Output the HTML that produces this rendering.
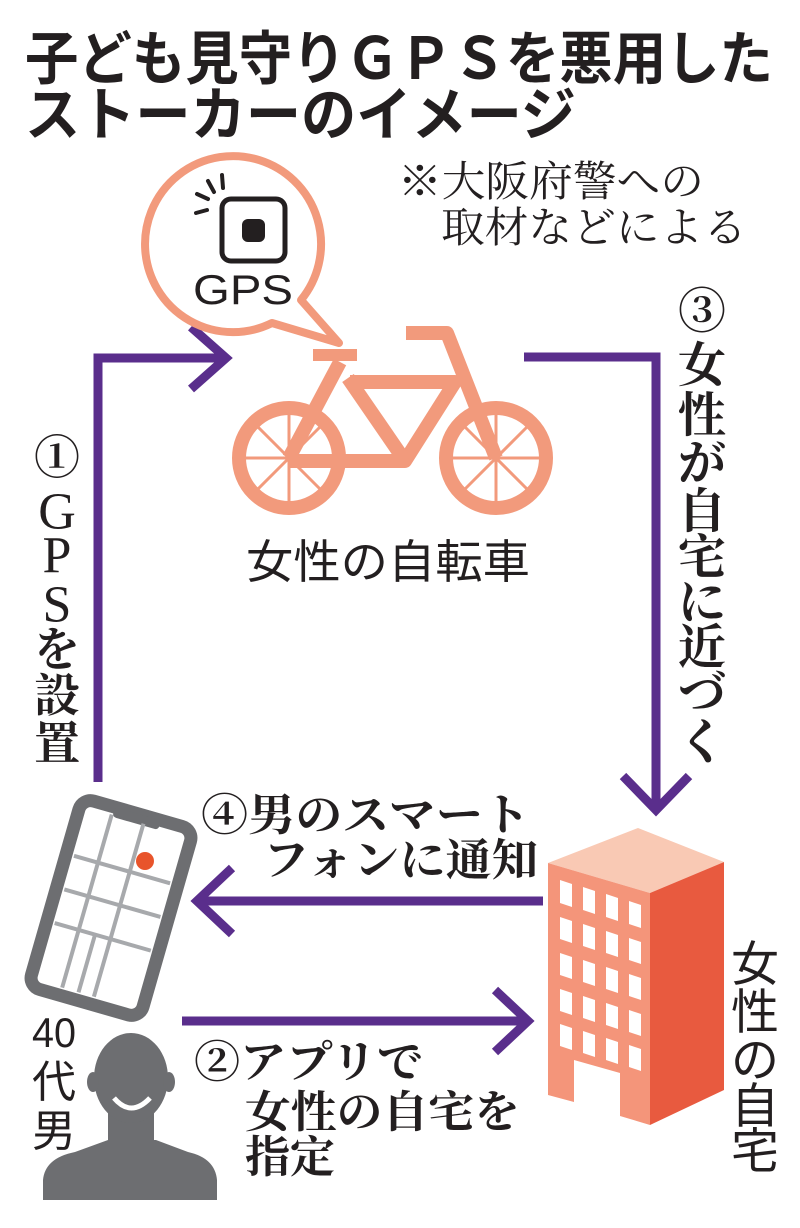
<!DOCTYPE html>
<html><head><meta charset="utf-8"><style>
html,body{margin:0;padding:0;background:#fff}
svg{display:block}
.t{font-family:"Liberation Sans","Noto Sans CJK JP",sans-serif;font-weight:bold;fill:#231f20}
.s{font-family:"Liberation Serif","Noto Serif CJK SC",serif;font-weight:bold;fill:#231f20}
.r{font-family:"Liberation Serif","Noto Serif CJK SC",serif;font-weight:normal;fill:#231f20}
.n{font-family:"Liberation Serif","Noto Serif CJK SC",serif;font-weight:normal;fill:#231f20}
.g{font-family:"Liberation Sans","Noto Sans CJK JP",sans-serif;font-weight:normal;fill:#231f20}
</style></head><body>
<svg width="800" height="1228" viewBox="0 0 800 1228" xmlns="http://www.w3.org/2000/svg">
<rect width="800" height="1228" fill="#fff"/>
<text class="t" x="25" y="79" font-size="58" textLength="748" lengthAdjust="spacingAndGlyphs">子ども見守りＧＰＳを悪用した</text>
<text class="t" x="25" y="135" font-size="58" textLength="551" lengthAdjust="spacingAndGlyphs">ストーカーのイメージ</text>
<text class="n" x="398" y="196" font-size="42" textLength="306" lengthAdjust="spacingAndGlyphs">※大阪府警への</text>
<text class="n" x="441" y="242" font-size="42" textLength="306" lengthAdjust="spacingAndGlyphs">取材などによる</text>

<g stroke="#5a2e8c" stroke-width="9" fill="none" stroke-linecap="butt">
<polyline points="98,782 98,358 226,358"/>
<polyline points="191,327 226,358 191,389"/>
<polyline points="524,357 656,357 656,810"/>
<polyline points="623,776 656,810 689,776"/>
<line x1="543" y1="901" x2="198" y2="901"/>
<polyline points="232,868 197,901 232,934"/>
<line x1="182" y1="1021" x2="526" y2="1021"/>
<polyline points="495,990 528,1021 495,1052"/>
</g>

<path d="M301,300 A88,88 0 1 0 272,323 L339,343 Z" fill="#fff" stroke="#f29a7c" stroke-width="8" stroke-linejoin="round"/>
<rect x="222" y="199" width="63" height="62" rx="9" fill="none" stroke="#231f20" stroke-width="5"/>
<rect x="242" y="219" width="23" height="23" rx="6" fill="#231f20"/>
<g stroke="#231f20" stroke-width="4" stroke-linecap="round">
<line x1="222" y1="175" x2="223" y2="188"/>
<line x1="208" y1="181" x2="214" y2="192"/>
<line x1="197" y1="194" x2="208" y2="199"/>
<line x1="196" y1="213" x2="207" y2="210"/>
</g>
<text x="243" y="304" font-size="42" text-anchor="middle" textLength="100" lengthAdjust="spacingAndGlyphs" style="font-family:'Liberation Sans',sans-serif;fill:#231f20">GPS</text>

<g stroke="#f29a7c" fill="none">
<circle cx="289" cy="458" r="50" stroke-width="14"/>
<circle cx="496" cy="458" r="50" stroke-width="14"/>
<g stroke-width="3">
<line x1="289" y1="408" x2="289" y2="508"/><line x1="239" y1="458" x2="339" y2="458"/>
<line x1="254" y1="423" x2="324" y2="493"/><line x1="254" y1="493" x2="324" y2="423"/>
<line x1="496" y1="408" x2="496" y2="508"/><line x1="446" y1="458" x2="546" y2="458"/>
<line x1="461" y1="423" x2="531" y2="493"/><line x1="461" y1="493" x2="531" y2="423"/>
</g>
<g stroke-width="14" stroke-linejoin="round" stroke-linecap="butt">
<polyline points="289,458 340,362"/>
<polyline points="289,461 405,461 455,382 350,382"/>
<line x1="348" y1="378" x2="405" y2="461"/>
<polyline points="406,333 447,333 496,458"/>
</g>
<line x1="313" y1="355" x2="357" y2="355" stroke-width="12"/>
</g>
<text class="g" x="246" y="578" font-size="46" textLength="284" lengthAdjust="spacingAndGlyphs">女性の自転車</text>

<g font-size="46" text-anchor="middle" dominant-baseline="central">
<text class="s" x="57" y="458">①</text>
<text class="r" x="57" y="512" font-size="52">G</text>
<text class="r" x="57" y="556" font-size="52">P</text>
<text class="r" x="57" y="605" font-size="52">S</text>
<text class="s" x="57" y="650">を</text>
<text class="s" x="57" y="696">設</text>
<text class="s" x="57" y="744">置</text>
</g>
<g font-size="48" text-anchor="middle" dominant-baseline="central">
<text class="s" x="702" y="312">③</text>
<text class="s" x="702" y="366">女</text>
<text class="s" x="702" y="416">性</text>
<text class="s" x="702" y="464">が</text>
<text class="s" x="702" y="512">自</text>
<text class="s" x="702" y="558">宅</text>
<text class="s" x="702" y="603">に</text>
<text class="s" x="702" y="648">近</text>
<text class="s" x="702" y="694">づ</text>
<text class="s" x="702" y="743">く</text>
</g>

<text class="s" x="201" y="830" font-size="44" textLength="329" lengthAdjust="spacingAndGlyphs">④男のスマート</text>
<text class="s" x="263" y="875" font-size="44" textLength="275" lengthAdjust="spacingAndGlyphs">フォンに通知</text>
<text class="s" x="194" y="1077" font-size="44" textLength="229" lengthAdjust="spacingAndGlyphs">②アプリで</text>
<text class="s" x="245" y="1127" font-size="44" textLength="275" lengthAdjust="spacingAndGlyphs">女性の自宅を</text>
<text class="s" x="245" y="1172" font-size="44" textLength="90" lengthAdjust="spacingAndGlyphs">指定</text>

<g transform="translate(111,908) rotate(16)">
<rect x="-58" y="-98" width="116" height="196" rx="12" fill="#fff" stroke="#6d6e71" stroke-width="13"/>
<rect x="-24" y="-98" width="48" height="10" rx="4" fill="#6d6e71"/>
<g stroke="#a7a9ac" stroke-width="4">
<line x1="-25" y1="-90" x2="-25" y2="90"/>
<line x1="8" y1="-90" x2="8" y2="90"/>
<line x1="-50" y1="-40" x2="50" y2="-40"/>
<line x1="-50" y1="30" x2="50" y2="30"/>
<line x1="-50" y1="-5" x2="50" y2="-5"/>
<line x1="-8" y1="30" x2="-8" y2="90"/>
</g>
</g>
<circle cx="145" cy="861" r="9" fill="#e8542b"/>

<text class="g" x="54" y="1047" font-size="42" text-anchor="middle" textLength="44" lengthAdjust="spacingAndGlyphs">40</text>
<text class="g" x="54" y="1097" font-size="44" text-anchor="middle">代</text>
<text class="g" x="54" y="1146" font-size="44" text-anchor="middle">男</text>

<g fill="#6d6e71">
<path d="M43,1200 L43,1180 Q45,1158 75,1152 L108,1140 L156,1140 L188,1152 Q215,1158 217,1180 L217,1200 Z"/>
<rect x="108" y="1100" width="46" height="50"/>
<ellipse cx="131" cy="1078" rx="37" ry="45"/>
<ellipse cx="93" cy="1082" rx="6" ry="10"/>
<ellipse cx="169" cy="1082" rx="6" ry="10"/>
</g>
<path d="M114,1098 Q131,1118 150,1098" fill="none" stroke="#fff" stroke-width="5"/>

<polygon points="548,863 638,828 724,862 650,893" fill="#f9c9b4"/>
<polygon points="548,863 650,893 650,1125 620,1116 620,1073 574,1060 574,1102 548,1095" fill="#f4957a"/>
<polygon points="650,893 724,862 724,1090 650,1125" fill="#e85a3f"/>
<g fill="#fff">
<polygon points="560,880 572,884 572,907 560,903"/><polygon points="583,887 595,891 595,914 583,910"/><polygon points="606,894 618,898 618,921 606,917"/><polygon points="629,901 641,905 641,928 629,924"/>
<polygon points="560,917 572,921 572,943 560,939"/><polygon points="583,924 595,928 595,950 583,946"/><polygon points="606,931 618,935 618,957 606,953"/><polygon points="629,938 641,942 641,964 629,960"/>
<polygon points="560,953 572,957 572,979 560,975"/><polygon points="583,960 595,964 595,986 583,982"/><polygon points="606,967 618,971 618,993 606,989"/><polygon points="629,974 641,978 641,1000 629,996"/>
<polygon points="560,989 572,993 572,1015 560,1011"/><polygon points="583,996 595,1000 595,1022 583,1018"/><polygon points="606,1003 618,1007 618,1029 606,1025"/><polygon points="629,1010 641,1014 641,1036 629,1032"/>
<polygon points="560,1024 572,1028 572,1050 560,1046"/><polygon points="583,1031 595,1035 595,1057 583,1053"/><polygon points="606,1038 618,1042 618,1064 606,1060"/><polygon points="629,1045 641,1049 641,1071 629,1067"/>
</g>

<g font-size="48" text-anchor="middle" dominant-baseline="central">
<text class="g" x="755" y="965">女</text>
<text class="g" x="755" y="1013">性</text>
<text class="g" x="755" y="1061">の</text>
<text class="g" x="755" y="1107">自</text>
<text class="g" x="755" y="1152">宅</text>
</g>
</svg>
</body></html>
